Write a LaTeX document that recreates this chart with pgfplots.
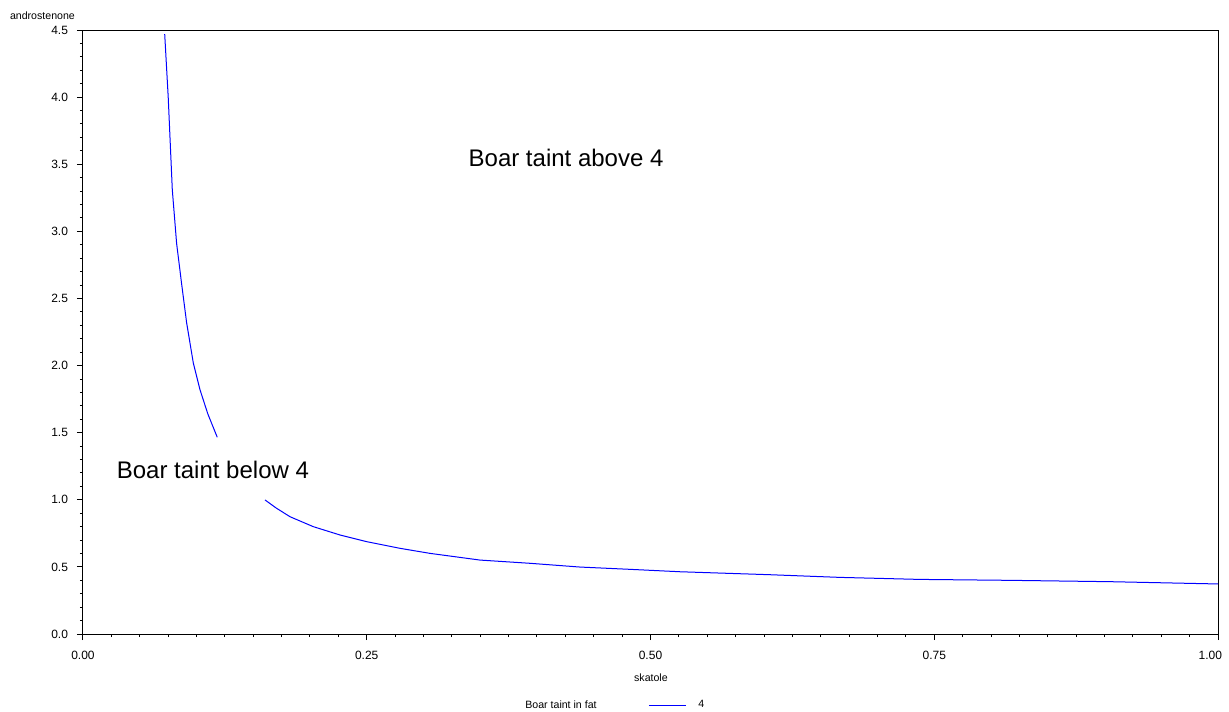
\documentclass[border=0pt]{standalone}
\usepackage{pgfplots}
\pgfplotsset{compat=1.18}
\usepackage{fontspec}
\setmainfont{Liberation Sans}

\begin{document}
\begin{tikzpicture}
\begin{axis}[
  scale only axis,
  width=567.5bp, height=302bp,
  xmin=0, xmax=1, ymin=0, ymax=4.5,
  xtick={0,0.25,0.5,0.75,1},
  xticklabels={0.00,0.25,0.50,0.75,\makebox[4bp][r]{1.00}},
  ytick={0,0.5,...,4.5},
  minor x tick num=9,
  minor y tick num=4,
  xtick pos=left, ytick pos=left,
  tick align=outside,
  major tick length=3bp,
  minor tick length=1.6bp,
  tick style={black, line width=0.5bp},
  axis line style={black, line width=0.5bp},
  yticklabel style={/pgf/number format/.cd, fixed, fixed zerofill, precision=1},
  /pgf/number format/assume math mode=true,
  tick label style={font=\fontsize{6bp}{7bp}\selectfont},
  xticklabel shift=2bp,
  yticklabel shift=1bp,
  clip=false,
  legend style={draw=none, fill=none, inner sep=0pt,
    nodes={inner sep=0pt},
    at={(rel axis cs:0.4978,-0.1175)}, anchor=west,
    font=\fontsize{5.3bp}{6.5bp}\selectfont},
  legend image code/.code={\draw[#1] (0bp,0bp) -- (18.5bp,0bp);},
]
% upper branch of the contour
\addplot[blue, line width=0.5bp] coordinates {
  (0.0720,4.47) (0.0751,4.00) (0.0787,3.31) (0.0825,2.91) (0.0869,2.61)
  (0.0913,2.32) (0.0972,2.02) (0.1031,1.82) (0.1100,1.64) (0.1183,1.466)
};
\addlegendentry{\hspace*{6bp}4}
% lower branch, after the label gap
\addplot[blue, line width=0.5bp, forget plot] coordinates {
  (0.1604,0.999) (0.1700,0.94) (0.1824,0.874) (0.2029,0.800) (0.2264,0.738)
  (0.2500,0.688) (0.2790,0.639) (0.3057,0.601) (0.3498,0.551) (0.3938,0.527)
  (0.4379,0.499) (0.4820,0.482) (0.5260,0.464) (0.6050,0.442) (0.6670,0.422)
  (0.7370,0.407) (0.8170,0.400) (0.9050,0.390) (1.0000,0.373)
};
% labels
\node[font=\fontsize{12bp}{14bp}\selectfont] at (axis cs:0.4256,3.547) {Boar taint above 4};
\node[font=\fontsize{12bp}{14bp}\selectfont] at (axis cs:0.1145,1.222) {Boar taint below 4};
\node[font=\fontsize{5.3bp}{6.5bp}\selectfont] at (rel axis cs:0.5004,-0.0728) {skatole};
\node[font=\fontsize{5.3bp}{6.5bp}\selectfont] at (rel axis cs:-0.0357,1.0236) {androstenone};
\node[font=\fontsize{5.3bp}{6.5bp}\selectfont, anchor=east, inner sep=0pt] at (rel axis cs:0.4529,-0.1175) {Boar taint in fat};
% page extent of the reference
\coordinate (pagebl) at (rel axis cs:-0.0731,-0.1275);
\coordinate (pagetr) at (rel axis cs:1.00969,1.0497);
\end{axis}
\pgfresetboundingbox
\path[use as bounding box] (pagebl) rectangle (pagetr);
\end{tikzpicture}
\end{document}
